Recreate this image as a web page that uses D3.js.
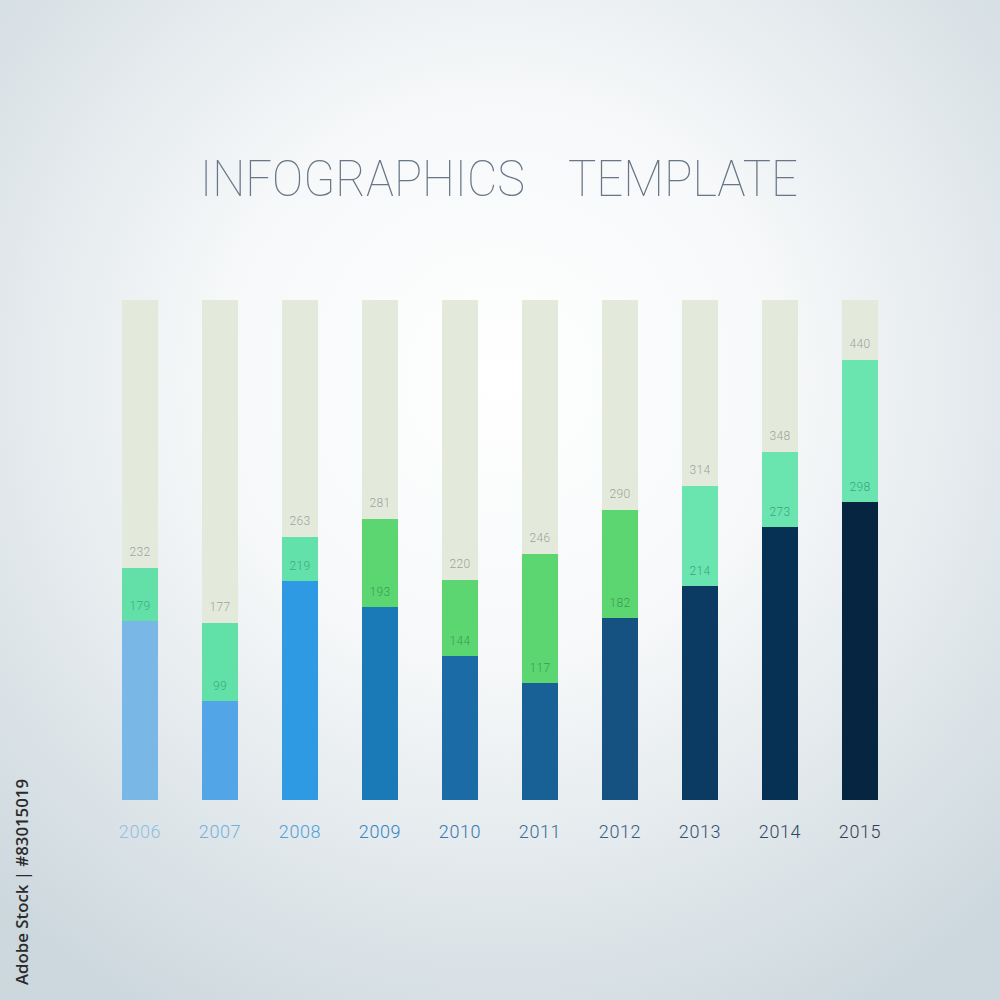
<!DOCTYPE html>
<html>
<head>
<meta charset="utf-8">
<script src="https://cdn.jsdelivr.net/npm/d3@7"></script>
<style>
  html, body { margin: 0; padding: 0; background: #ffffff; }
  svg { display: block; }
</style>
</head>
<body>
<svg id="chart" width="1000" height="1000"></svg>
<script>
// ---- data ----
const years = ["2006","2007","2008","2009","2010","2011","2012","2013","2014","2015"];
const totalValues = [232, 177, 263, 281, 220, 246, 290, 314, 348, 440];   // top of green segment
const baseValues  = [179, 99, 219, 193, 144, 117, 182, 214, 273, 298];    // top of blue segment
const maxValue = 500;
const blueColors  = ["#79b7e6","#52a5e6","#2e9ae4","#1a79b7","#1a6ba6","#176196","#155181","#0b3a62","#073055","#062540"];
const greenColors = ["#62e0a8","#61e0a8","#62e1aa","#5cd670","#5cd670","#5cd670","#5cd670","#6ae5b0","#6ae5b0","#6ae5b0"];
const greenLabelColors = ["#3fa981","#3fa981","#3fa981","#3d9b58","#3d9b58","#3d9b58","#3d9b58","#3ea47c","#3ea47c","#3ea47c"];
const yearColors = ["#8fc0e2","#74b0de","#4f9fd8","#3484c2","#3577ab","#386c98","#365e82","#34516d","#33475e","#333f50"];
const titleWords = ["INFOGRAPHICS", "TEMPLATE"];

const svg = d3.select("#chart");

// background radial gradient
const defs = svg.append("defs");
const rg = defs.append("radialGradient").attr("id","bg")
  .attr("cx","50%").attr("cy","38%").attr("r","72%");
rg.append("stop").attr("offset","0%").attr("stop-color","#ffffff");
rg.append("stop").attr("offset","40%").attr("stop-color","#f6f8f9");
rg.append("stop").attr("offset","100%").attr("stop-color","#cdd8de");
svg.append("rect").attr("width",1000).attr("height",1000).attr("fill","url(#bg)");

// scales
const x = d3.scaleBand().domain(years).range([100, 900]).paddingInner(0.55).paddingOuter(0.275);
const y = d3.scaleLinear().domain([0, maxValue]).range([800, 300]);

const data = years.map((yr, i) => ({
  year: yr, total: totalValues[i], base: baseValues[i],
  blue: blueColors[i], green: greenColors[i], glabel: greenLabelColors[i], ycol: yearColors[i]
}));

const g = svg.append("g");
const bars = g.selectAll("g.bar").data(data).join("g").attr("class","bar");

// full background bar
bars.append("rect")
  .attr("x", d => x(d.year)).attr("width", x.bandwidth())
  .attr("y", y(maxValue)).attr("height", y(0) - y(maxValue))
  .attr("fill", "#e4eadb");
// green segment (base..total)
bars.append("rect")
  .attr("x", d => x(d.year)).attr("width", x.bandwidth())
  .attr("y", d => y(d.total)).attr("height", d => y(d.base) - y(d.total))
  .attr("fill", d => d.green);
// blue segment (0..base)
bars.append("rect")
  .attr("x", d => x(d.year)).attr("width", x.bandwidth())
  .attr("y", d => y(d.base)).attr("height", d => y(0) - y(d.base))
  .attr("fill", d => d.blue);

const labelFont = "Roboto, 'Open Sans', sans-serif";
// top labels
bars.append("text")
  .attr("x", d => x(d.year) + x.bandwidth()/2)
  .attr("y", d => y(d.total) - 12)
  .attr("text-anchor","middle")
  .attr("font-family", labelFont).attr("font-weight", 300)
  .attr("font-size", 12).attr("letter-spacing", 0.3).attr("fill", "#9ea29b")
  .text(d => d.total);
// base labels
bars.append("text")
  .attr("x", d => x(d.year) + x.bandwidth()/2)
  .attr("y", d => y(d.base) - 11)
  .attr("text-anchor","middle")
  .attr("font-family", labelFont).attr("font-weight", 300)
  .attr("font-size", 12).attr("letter-spacing", 0.3).attr("fill", d => d.glabel)
  .text(d => d.base);

// x axis (year labels)
const xAxis = d3.axisBottom(x).tickSize(0).tickPadding(0);
const ax = svg.append("g").attr("transform","translate(0,825)").call(xAxis);
ax.select(".domain").remove();
ax.selectAll("text")
  .attr("font-family", labelFont).attr("font-weight", 300)
  .attr("font-size", 18).attr("letter-spacing", 0.6)
  .attr("fill", (d, i) => yearColors[i]);

// title
const title = svg.append("g")
  .attr("font-family", "Roboto, 'Open Sans', sans-serif")
  .attr("font-weight", 100).attr("font-size", 50).attr("fill", "#687687");
title.append("text").attr("x", 200).attr("y", 196)
  .attr("textLength", 325).attr("lengthAdjust","spacingAndGlyphs").text(titleWords[0]);
title.append("text").attr("x", 568).attr("y", 196)
  .attr("textLength", 230).attr("lengthAdjust","spacingAndGlyphs").text(titleWords[1]);

// side stamp
svg.append("text")
  .attr("transform","translate(28,985) rotate(-90)")
  .attr("font-family","'Open Sans', sans-serif").attr("font-weight",600)
  .attr("font-size",16).attr("fill","#2b2b2b")
  .attr("textLength",206).attr("lengthAdjust","spacingAndGlyphs")
  .text("Adobe Stock | #83015019");
</script>
</body>
</html>
